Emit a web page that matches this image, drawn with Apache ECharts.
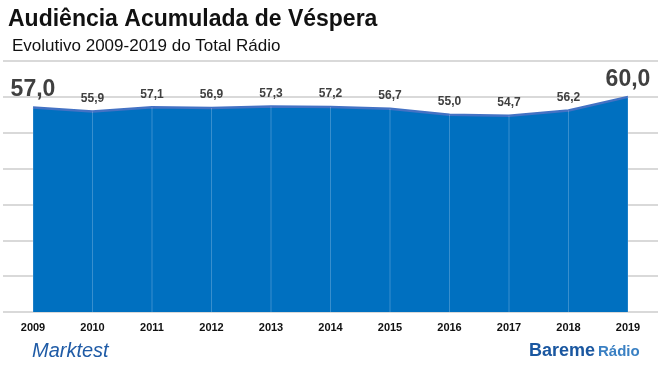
<!DOCTYPE html>
<html>
<head>
<meta charset="utf-8">
<script src="https://cdn.jsdelivr.net/npm/echarts@6/dist/echarts.min.js"></script>
<style>html,body{margin:0;padding:0;background:#fff}#c{width:658px;height:372px}</style>
</head>
<body>
<div id="c"></div>
<script>
var categories = ['2009','2010','2011','2012','2013','2014','2015','2016','2017','2018','2019'];
var values = [57.0, 55.9, 57.1, 56.9, 57.3, 57.2, 56.7, 55.0, 54.7, 56.2, 60.0];
var bigLabelIndexes = [0, 10];
var titleText = 'Audiência Acumulada de Véspera';
var subtitleText = 'Evolutivo 2009-2019 do Total Rádio';

var fmt = function (v) { return v.toFixed(1).replace('.', ','); };

var lineData = values.map(function (v, i) {
  var d = { value: v };
  if (bigLabelIndexes.indexOf(i) >= 0) {
    d.label = { fontSize: 23, distance: 6 };
  }
  return d;
});

var chart = echarts.init(document.getElementById('c'), null, { renderer: 'canvas' });
chart.setOption({
  animation: false,
  backgroundColor: '#ffffff',
  grid: [
    { left: 33, right: 30, top: 61, bottom: 60 },
    { left: 3, right: 0, top: 61, bottom: 60 }
  ],
  xAxis: [
    {
      type: 'category', gridIndex: 0, data: categories, boundaryGap: false,
      axisLine: { show: false }, axisTick: { show: false }, splitLine: { show: false },
      axisLabel: { margin: 10, fontFamily: 'Liberation Sans', fontWeight: 'bold', fontSize: 11, color: '#111' }
    },
    {
      type: 'value', gridIndex: 1, min: 0, max: 1, show: false
    }
  ],
  yAxis: [
    { type: 'value', gridIndex: 0, min: 0, max: 70, interval: 10, show: false },
    {
      type: 'value', gridIndex: 1, min: 0, max: 70, interval: 10,
      axisLine: { show: false }, axisTick: { show: false }, axisLabel: { show: false },
      splitLine: { show: true, lineStyle: { color: '#d9d9d9', width: 2 } }
    }
  ],
  series: [
    {
      type: 'line', xAxisIndex: 0, yAxisIndex: 0, data: lineData,
      symbol: 'circle', symbolSize: 0.1, showSymbol: true, z: 3,
      itemStyle: { color: '#4472c4' },
      lineStyle: { color: '#4472c4', width: 2.5 },
      areaStyle: { color: '#0070c0', opacity: 1 },
      label: {
        show: true, position: 'top', distance: 7,
        fontFamily: 'Liberation Sans', fontWeight: 'bold', fontSize: 12, color: '#404040',
        formatter: function (p) { return fmt(p.value); }
      },
      labelLayout: { hideOverlap: false }
    },
    {
      type: 'bar', xAxisIndex: 0, yAxisIndex: 0, data: values,
      barWidth: 1, z: 4, silent: true,
      itemStyle: { color: 'rgba(255,255,255,0.22)' }
    }
  ],
  graphic: [
    { type: 'text', left: 8, top: 8, style: { text: titleText, font: 'bold 23px "Liberation Sans"', fill: '#111' } },
    { type: 'text', left: 12, top: 38, style: { text: subtitleText, font: '17px "Liberation Sans"', fill: '#111' } },
    { type: 'text', left: 32, top: 341, style: { text: 'Marktest', font: 'italic 20px "Liberation Sans"', fill: '#1f5ba6' } },
    { type: 'text', left: 529, top: 342, style: { text: 'Bareme', font: 'bold 18px "Liberation Sans"', fill: '#1a57a0' } },
    { type: 'text', left: 598, top: 344, style: { text: 'Rádio', font: 'bold 15px "Liberation Sans"', fill: '#3a80c3' } }
  ]
});
</script>
</body>
</html>
